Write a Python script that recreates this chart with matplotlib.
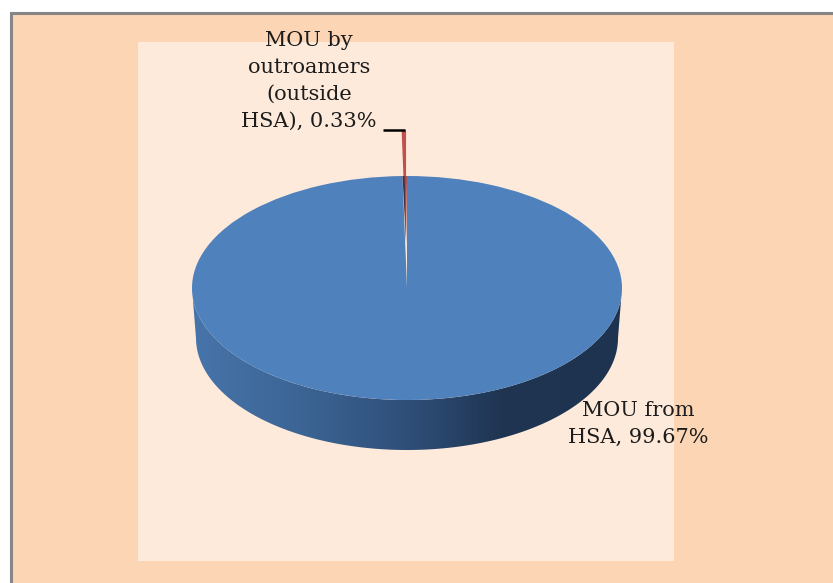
import numpy as np
import matplotlib
matplotlib.use('Agg')
import matplotlib.pyplot as plt
from matplotlib.patches import Rectangle, Polygon
from matplotlib.colors import LinearSegmentedColormap

W, H = 833, 583

# chart values
labels = ['MOU from\nHSA, 99.67%', 'MOU by\noutroamers\n(outside\nHSA), 0.33%']
shares = [99.67, 0.33]
pie_colors = ['#4f81bd', '#c0504d']

# pie geometry in pixels
cx, cy = 407, 288
rx, ry = 215, 112
rx_bottom = 211
depth = 50


def fx(x):
    return x / W


def fy(y):
    return 1 - y / H


fig = plt.figure(figsize=(W / 100, H / 100), dpi=100, facecolor='white')

# outer frame and plot area
fig.patches.append(Rectangle((fx(10.5), fy(H + 10)), fx(W), (H + 10 - 12.5) / H, transform=fig.transFigure,
                             facecolor='#fcd5b5', edgecolor='#868686', linewidth=2.2, zorder=-2))
fig.patches.append(Rectangle((fx(138), fy(561)), fx(536), 519 / H, transform=fig.transFigure,
                             facecolor='#fdeada', edgecolor='none', zorder=-1))

# unit circle in data coords becomes the ellipse of the top face
ax = fig.add_axes([0, 0, 1, 1])
ax.patch.set_visible(False)

# cylinder wall with a horizontal gradient, a bit narrower at the bottom
theta = np.linspace(np.pi, 2 * np.pi, 200)
wall_top = np.column_stack([np.cos(theta), np.sin(theta)])
wall_bottom = np.column_stack([np.cos(theta) * rx_bottom / rx, np.sin(theta) - depth / ry])[::-1]
wall = Polygon(np.vstack([wall_top, wall_bottom]), closed=True, transform=ax.transData,
               facecolor='none', edgecolor='none')
ax.add_patch(wall)
wall_cmap = LinearSegmentedColormap.from_list('wall', [(0, '#4774aa'), (0.25, '#3c6595'), (0.5, '#2f4f79'),
                                                       (0.72, '#1f3552'), (1, '#1d3350')])
grad = ax.imshow(np.linspace(0, 1, 256).reshape(1, -1), cmap=wall_cmap, aspect='auto', zorder=1,
                 extent=(-1, 1, -1 - depth / ry, 0.1))
grad.set_clip_path(wall)

# top face and the pulled out slice
half = shares[1] * 1.8
tilt = 0.6
pull = 0.41
wedges, _ = ax.pie(shares, colors=pie_colors, startangle=90 + half + tilt, explode=[0, pull],
                   wedgeprops={'linewidth': 0, 'zorder': 2}, normalize=True)

# side of the pulled out slice, visible over the top face
mid = np.radians(90 + tilt)
left = np.radians(90 + tilt + half)
right = np.radians(90 + tilt - half)
tip = (np.cos(mid) * pull, pull)
ax.add_patch(Polygon([tip, (np.cos(left), 1), (np.cos(mid), 1)], closed=True,
                     facecolor='#4a2f3c', edgecolor='none', zorder=3))
ax.add_patch(Polygon([tip, (np.cos(mid), 1), (np.cos(right), 1)], closed=True,
                     facecolor='#a5474a', edgecolor='none', zorder=3))

ax.set_aspect('auto')
ax.set_xlim(-cx / rx, (W - cx) / rx)
ax.set_ylim((cy - H) / ry, cy / ry)
ax.axis('off')

# leader line of the small slice
ax.plot([(383 - cx) / rx, (404.5 - cx) / rx], [(cy - 129.7) / ry] * 2, color='black', linewidth=1.8, zorder=4,
        solid_capstyle='butt')

fig.text(fx(309), fy(131), labels[1], ha='center', va='bottom', fontsize=15, family='DejaVu Serif',
         color='#1c1c1c', linespacing=1.53)
fig.text(fx(638), fy(447), labels[0], ha='center', va='bottom', fontsize=15, family='DejaVu Serif',
         color='#1c1c1c', linespacing=1.53)

fig.savefig('out.png', dpi=100)
